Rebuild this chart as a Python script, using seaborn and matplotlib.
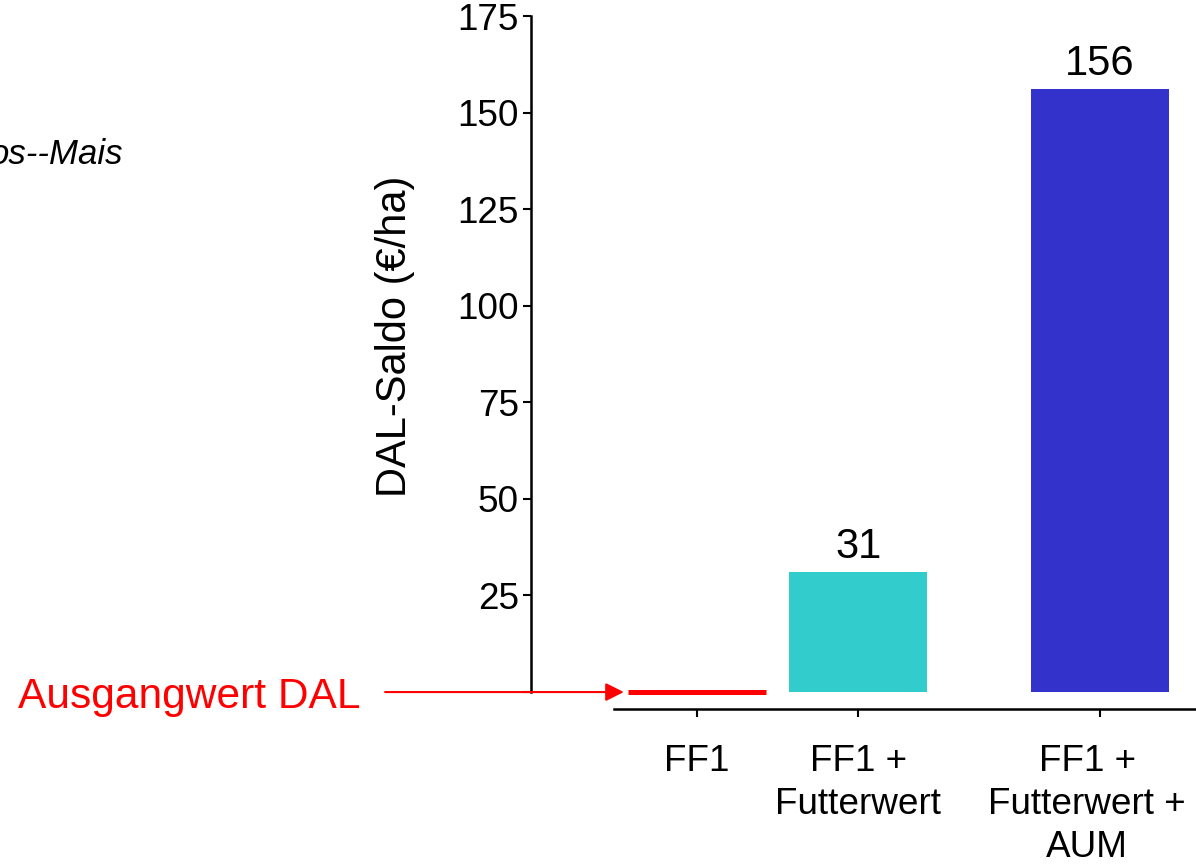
import numpy as np
import pandas as pd
import seaborn as sns
import matplotlib.pyplot as plt
import matplotlib.transforms as mtransforms

# Data
categories = ['FF1', 'FF1 +\nFutterwert', 'FF1 +\nFutterwert +\nAUM']
saldo = [0, 31, 156]
bar_labels = ['', '31', '156']
bar_colors = ['#FF0000', '#33CCCC', '#3333CC']
y_ticks = [0, 25, 50, 75, 100, 125, 150, 175]
y_ticklabels = ['', '25', '50', '75', '100', '125', '150', '175']

# the original spaces the groups unevenly: empty slots between them
slot_order = [categories[0], ' ', categories[1], '  ', '   ', categories[2]]
real_slots = [slot_order.index(c) for c in categories]

df = pd.DataFrame({'Variante': categories, 'Saldo': saldo})

sns.set_theme(style='white')
plt.rcParams['font.family'] = ['Liberation Sans', 'DejaVu Sans']

fig = plt.figure(figsize=(11.96, 8.64), dpi=100)
ax = fig.add_axes([0.444, 0.199, 0.556, 0.7824])

bar_width = 1.708
sns.barplot(data=df, x='Variante', y='Saldo', hue='Variante', order=slot_order,
            hue_order=categories, palette=bar_colors, legend=False, dodge=False,
            width=bar_width, saturation=1, linewidth=0, ax=ax)

# starting value bar (0) shown as a thick red line
first = ax.patches[0]
first.set_edgecolor('#FF0000')
first.set_linewidth(3.6)
first.set_capstyle('butt')
first.set_clip_on(False)

for cont, lab in zip(ax.containers, bar_labels):
    if lab:
        ax.bar_label(cont, labels=[lab], padding=4, fontsize=30, color='black')

ax.set_xlim(-2.054, 6.188)
ax.set_ylim(0, 175)
ax.set_yticks(y_ticks)
ax.set_yticklabels(y_ticklabels)
ax.set_xticks(real_slots)
ax.set_xticklabels(categories)

for side in ['top', 'right']:
    ax.spines[side].set_visible(False)
for side in ['left', 'bottom']:
    ax.spines[side].set_linewidth(1.8)
    ax.spines[side].set_color('black')
ax.spines['bottom'].set_position(('outward', 12.2))
ax.spines['bottom'].set_bounds(-1.027, 6.188)

ax.tick_params(axis='y', direction='out', length=5.8, width=1.5, pad=3,
               labelsize=26.6, colors='black', left=True)
ax.tick_params(axis='x', direction='out', length=5.8, width=1.5, pad=19.5,
               labelsize=26.6, colors='black', bottom=True)

xlabs = ax.get_xticklabels()
for lab in xlabs:
    lab.set_linespacing(1.3)
    lab.set_horizontalalignment('center')
    lab.set_multialignment('center')
# last label sits a little left of its tick so it stays inside the figure
shift = mtransforms.ScaledTranslation(-13 / 100, 0, fig.dpi_scale_trans)
xlabs[-1].set_transform(xlabs[-1].get_transform() + shift)

ax.set_xlabel('')
ax.set_ylabel('DAL-Saldo (€/ha)', fontsize=30, color='black')
ax.yaxis.set_label_coords(-0.175, 0.527)

# starting value marker
ax.annotate('', xy=(-bar_width / 2 - 0.05, 0), xycoords='data',
            xytext=(-0.2195, 0), textcoords=ax.get_yaxis_transform(),
            arrowprops=dict(arrowstyle='-|>,head_length=11,head_width=5.5',
                            mutation_scale=1, color='#FF0000', lw=1.5,
                            shrinkA=0, shrinkB=0),
            annotation_clip=False)
ax.text(-0.257, -1.4, 'Ausgangwert DAL', transform=ax.get_yaxis_transform(),
        ha='right', va='center', fontsize=30.6, color='#FF0000')

fig.text(123 / 1196, 1 - 155 / 864, 'os--Mais', ha='right', va='center',
         style='italic', fontsize=25, color='black')

fig.savefig('out.png', dpi=100)
